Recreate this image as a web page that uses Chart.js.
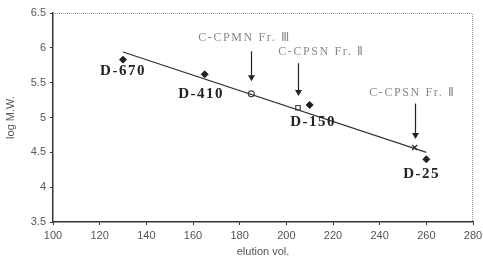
<!DOCTYPE html>
<html>
<head>
<meta charset="utf-8">
<script src="https://cdn.jsdelivr.net/npm/chart.js@4"></script>
<style>
  html, body { margin: 0; padding: 0; background: #fff; }
  #wrap { width: 483px; height: 267px; }
</style>
</head>
<body>
<div id="wrap"><canvas id="grafico" width="483" height="267"></canvas></div>
<script>
// marcadores (estandares)
const standardX = [130, 165, 210, 260];
const standardY = [5.83, 5.62, 5.18, 4.40];
const standardNames = ['D-670', 'D-410', 'D-150', 'D-25'];

// fracciones
const fr3X = [185], fr3Y = [5.34];
const fr2aX = [205], fr2aY = [5.14];
const fr2bX = [255], fr2bY = [4.57];
const fractionNames = ['C-CPMN Fr. Ⅲ', 'C-CPSN Fr. Ⅱ', 'C-CPSN Fr. Ⅱ'];

// recta de calibracion
const lineX = [130, 260];
const lineY = [5.94, 4.50];

const yTicks = [3.5, 4, 4.5, 5, 5.5, 6, 6.5];

function pts(xs, ys) {
  return xs.map((x, i) => ({ x: x, y: ys[i] }));
}

// posiciones de texto (en unidades de datos)
const nameOffsets = [[0, -0.17], [-1.5, -0.28], [1.5, -0.25], [-2, -0.21]];
const fracLabelPos = [[182, 6.15], [215, 5.94], [254, 5.36]];
const arrowTop = [5.95, 5.78, 5.20];
const arrowBottom = [5.52, 5.31, 4.69];

const annotations = {
  id: 'annotations',
  afterDatasetsDraw(chart) {
    const ctx = chart.ctx;
    const xs = chart.scales.x, ys = chart.scales.y;
    const area = chart.chartArea;
    ctx.save();
    // borde punteado arriba y derecha
    ctx.strokeStyle = '#999';
    ctx.lineWidth = 1;
    ctx.setLineDash([1, 1]);
    ctx.beginPath();
    ctx.moveTo(area.left, area.top + 0.5);
    ctx.lineTo(area.right - 0.5, area.top + 0.5);
    ctx.lineTo(area.right - 0.5, area.bottom);
    ctx.stroke();
    ctx.setLineDash([]);

    // nombres de estandares
    ctx.fillStyle = '#222';
    ctx.font = 'bold 15px "Liberation Serif"';
    ctx.letterSpacing = '1.5px';
    ctx.textAlign = 'center';
    ctx.textBaseline = 'middle';
    standardNames.forEach((n, i) => {
      const px = xs.getPixelForValue(standardX[i] + nameOffsets[i][0]);
      const py = ys.getPixelForValue(standardY[i] + nameOffsets[i][1]);
      ctx.fillText(n, px, py);
    });

    // fracciones
    ctx.fillStyle = '#888';
    ctx.font = '12px "Liberation Serif"';
    ctx.letterSpacing = '1.6px';
    fractionNames.forEach((n, i) => {
      ctx.fillText(n, xs.getPixelForValue(fracLabelPos[i][0]), ys.getPixelForValue(fracLabelPos[i][1]));
    });
    ctx.letterSpacing = '0px';

    // flechas
    ctx.strokeStyle = '#222';
    ctx.fillStyle = '#222';
    ctx.lineWidth = 1.2;
    [fr3X[0], fr2aX[0], fr2bX[0]].forEach((v, i) => {
      const px = Math.round(xs.getPixelForValue(v)) + 0.5;
      const y1 = ys.getPixelForValue(arrowTop[i]);
      const y2 = ys.getPixelForValue(arrowBottom[i]);
      ctx.beginPath();
      ctx.moveTo(px, y1);
      ctx.lineTo(px, y2 - 5);
      ctx.stroke();
      ctx.beginPath();
      ctx.moveTo(px - 3.5, y2 - 6);
      ctx.lineTo(px + 3.5, y2 - 6);
      ctx.lineTo(px, y2);
      ctx.closePath();
      ctx.fill();
    });
    ctx.restore();
  }
};

const ctx = document.getElementById('grafico').getContext('2d');
new Chart(ctx, {
  type: 'scatter',
  data: {
    datasets: [
      {
        type: 'line',
        data: pts(lineX, lineY),
        borderColor: '#333',
        borderWidth: 1.2,
        pointRadius: 0,
        fill: false
      },
      {
        data: pts(standardX, standardY),
        pointStyle: 'rectRot',
        pointRadius: 3.5,
        backgroundColor: '#222',
        borderColor: '#222'
      },
      {
        data: pts(fr3X, fr3Y),
        pointStyle: 'circle',
        pointRadius: 3,
        backgroundColor: '#fff',
        borderColor: '#444',
        borderWidth: 1.2
      },
      {
        data: pts(fr2aX, fr2aY),
        pointStyle: 'rect',
        pointRadius: 3.2,
        backgroundColor: '#fff',
        borderColor: '#444',
        borderWidth: 1.2
      },
      {
        data: pts(fr2bX, fr2bY),
        pointStyle: 'crossRot',
        pointRadius: 3.5,
        borderColor: '#333',
        borderWidth: 1.5
      }
    ]
  },
  options: {
    responsive: false,
    animation: false,
    layout: { padding: { left: 4, right: 0, top: 13, bottom: 4 } },
    plugins: { legend: { display: false }, tooltip: { enabled: false } },
    scales: {
      x: {
        type: 'linear',
        min: 100, max: 280,
        afterFit(s) { s.height = 41; s.paddingRight = 10; },
        ticks: { stepSize: 20, color: '#555', font: { family: 'Liberation Sans', size: 11 }, padding: 4 },
        grid: { drawOnChartArea: false, drawTicks: true, tickLength: 3, color: '#333' },
        border: { color: '#333', width: 1.5 },
        title: { display: true, text: 'elution vol.', color: '#555', font: { family: 'Liberation Sans', size: 11 }, padding: { top: 2 } }
      },
      y: {
        min: 3.5, max: 6.5,
        afterFit(s) { s.width = 49; },
        afterBuildTicks(s) { s.ticks = yTicks.map(v => ({ value: v })); },
        ticks: { color: '#555', font: { family: 'Liberation Sans', size: 11 }, padding: 4, callback: v => String(v) },
        grid: { drawOnChartArea: false, drawTicks: true, tickLength: 3, color: '#333' },
        border: { color: '#333', width: 1.5 },
        title: { display: true, text: 'log M.W.', color: '#555', font: { family: 'Liberation Sans', size: 11 }, padding: 0 }
      }
    }
  },
  plugins: [annotations]
});
</script>
</body>
</html>
